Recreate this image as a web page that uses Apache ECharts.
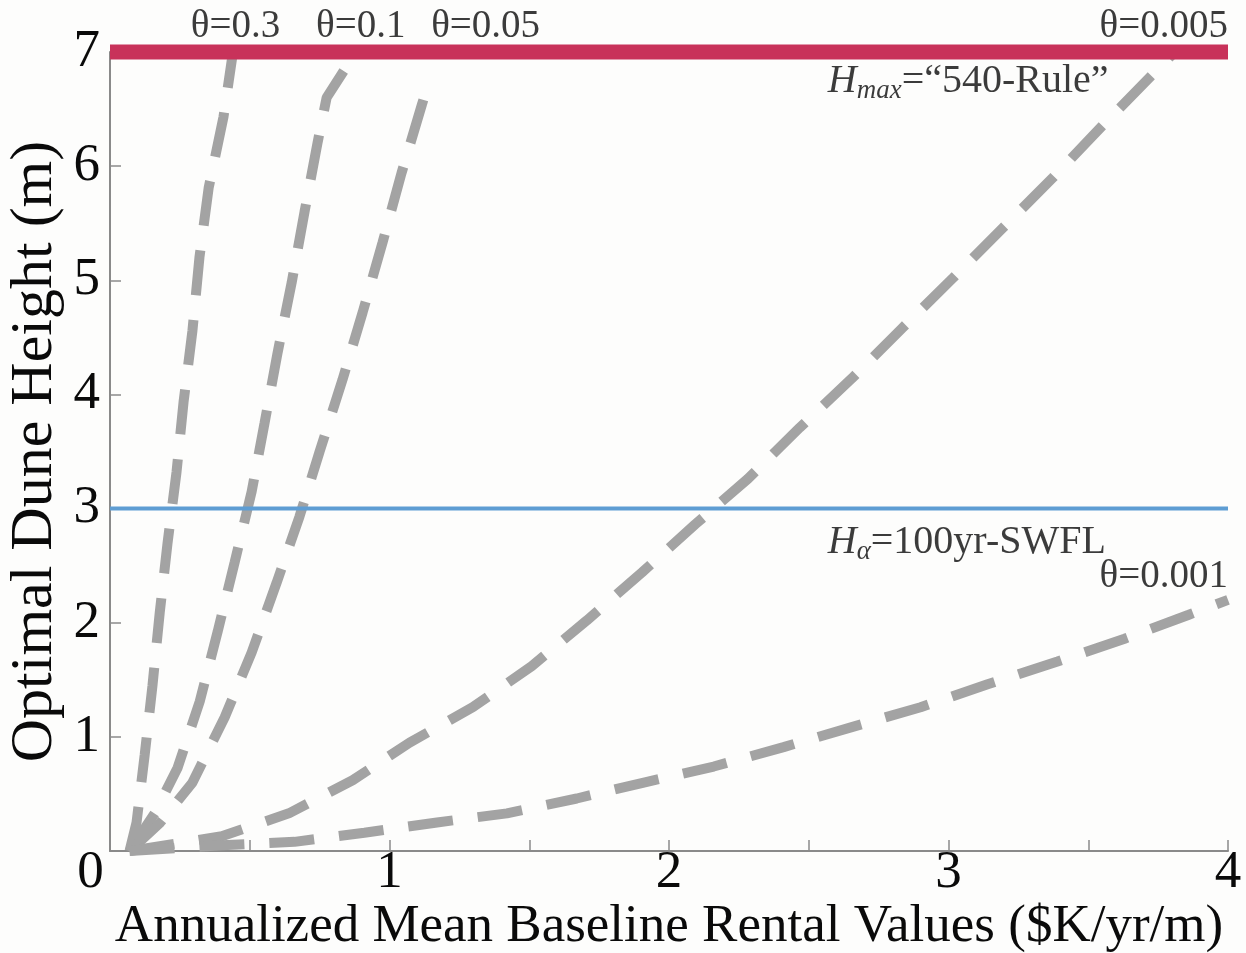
<!DOCTYPE html>
<html>
<head>
<meta charset="utf-8">
<title>Optimal Dune Height</title>
<script src="https://cdn.jsdelivr.net/npm/echarts@6/dist/echarts.min.js"></script>
<style>
  html, body { margin: 0; padding: 0; background: #fdfdfc; }
  #chart { width: 1246px; height: 953px; }
</style>
</head>
<body>
<div id="chart"></div>
<script>
// Optimal dune height against annualized mean baseline rental value,
// one dashed curve per discount parameter θ.
const theta03 = [[0.07, 0], [0.095, 0.25], [0.124, 0.84], [0.152, 1.45], [0.178, 2.09], [0.206, 2.70],
  [0.238, 3.32], [0.263, 3.93], [0.295, 4.56], [0.320, 5.20], [0.353, 5.81], [0.406, 6.43], [0.44, 7.0]];
const theta01 = [[0.07, 0], [0.16, 0.33], [0.242, 0.73], [0.321, 1.31], [0.385, 1.92], [0.446, 2.53],
  [0.507, 3.15], [0.553, 3.75], [0.600, 4.37], [0.650, 4.98], [0.696, 5.60], [0.743, 6.21],
  [0.775, 6.6], [0.88, 7.0]];
const theta005 = [[0.07, 0], [0.18, 0.25], [0.295, 0.60], [0.41, 1.17], [0.507, 1.74], [0.596, 2.35],
  [0.678, 2.93], [0.75, 3.5], [0.832, 4.13], [0.904, 4.72], [0.975, 5.33], [1.043, 5.94],
  [1.116, 6.54], [1.14, 6.73]];
const theta0005 = [[0.07, 0], [0.40, 0.13], [0.64, 0.33], [0.868, 0.62], [1.072, 0.95], [1.298, 1.26],
  [1.509, 1.62], [1.706, 2.02], [1.903, 2.44], [2.093, 2.86], [2.282, 3.26], [2.468, 3.71],
  [2.654, 4.14], [2.834, 4.58], [3.016, 5.02], [3.195, 5.46], [3.374, 5.90], [3.553, 6.36],
  [3.729, 6.80], [3.81, 7.0]];
const theta0001 = [[0.07, 0], [0.40, 0.05], [0.66, 0.08], [0.91, 0.16], [1.17, 0.25], [1.42, 0.33],
  [1.67, 0.46], [1.91, 0.60], [2.16, 0.74], [2.41, 0.91], [2.66, 1.09], [2.90, 1.26],
  [3.14, 1.46], [3.39, 1.66], [3.63, 1.86], [3.86, 2.07], [4.0, 2.20]];

// Reference heights
const hMax = 7;        // "540-Rule"
const hAlpha = 3;      // 100yr-SWFL
const xRange = [0, 4];
const yRange = [0, 7];

// Text annotations, anchored in data units
const annotations = [
  { text: 'θ=0.3', at: [0.449, 7.22], align: 'center' },
  { text: 'θ=0.1', at: [0.897, 7.22], align: 'center' },
  { text: 'θ=0.05', at: [1.344, 7.22], align: 'center' },
  { text: 'θ=0.005', at: [4.0, 7.22], align: 'right' },
  { text: 'θ=0.001', at: [4.0, 2.40], align: 'right' },
  { text: '{i|H}{sub|max}{n|=“540-Rule”}', at: [2.568, 6.74], align: 'left' },
  { text: '{i|H}{sub|α}{n|=100yr-SWFL}', at: [2.568, 2.70], align: 'left' }
];

const FONT = 'Liberation Serif';
const INK = '#0a0a0a';
const AXIS_GREY = '#8a8a8a';
const DASH_GREY = '#a3a3a3';

const chart = echarts.init(document.getElementById('chart'), null, { renderer: 'canvas' });

function dashed(name, data) {
  return {
    name, type: 'line', data, showSymbol: false, symbol: 'none',
    lineStyle: { color: DASH_GREY, width: 10, type: [45, 25], cap: 'butt' },
    z: 2, silent: true, clip: false
  };
}

const richText = {
  i: { fontFamily: FONT, fontStyle: 'italic', fontSize: 40, color: INK, lineHeight: 46 },
  sub: { fontFamily: FONT, fontStyle: 'italic', fontSize: 27, color: INK, lineHeight: 20, verticalAlign: 'bottom' },
  n: { fontFamily: FONT, fontSize: 40, color: INK, lineHeight: 46 }
};

chart.setOption({
  animation: false,
  backgroundColor: '#fdfdfc',
  grid: { left: 110, right: 18, top: 52, bottom: 102, containLabel: false, outerBoundsMode: 'none' },
  xAxis: {
    type: 'value', min: xRange[0], max: xRange[1], interval: 0.5,
    name: 'Annualized Mean Baseline Rental Values ($K/yr/m)',
    nameLocation: 'middle', nameGap: 50, nameMoveOverlap: false,
    nameTextStyle: { fontFamily: FONT, fontSize: 53, color: INK },
    axisLine: { show: true, onZero: false, lineStyle: { color: AXIS_GREY, width: 2 } },
    axisTick: { show: true, inside: true, length: 11, lineStyle: { color: AXIS_GREY, width: 1.5 } },
    axisLabel: {
      fontFamily: FONT, fontSize: 53, color: INK, margin: -4,
      formatter: v => (Number.isInteger(v) ? (v === 0 ? '{z|0}' : String(v)) : ''),
      rich: { z: { fontFamily: FONT, fontSize: 53, color: INK, padding: [0, 39, 0, 0] } }
    },
    splitLine: { show: false }
  },
  yAxis: {
    type: 'value', min: yRange[0], max: yRange[1], interval: 1,
    name: 'Optimal Dune Height (m)',
    nameLocation: 'middle', nameGap: 45, nameMoveOverlap: false,
    nameTextStyle: { fontFamily: FONT, fontSize: 60, color: INK },
    axisLine: { show: true, onZero: false, lineStyle: { color: AXIS_GREY, width: 2 } },
    axisTick: { show: true, inside: true, length: 11, lineStyle: { color: AXIS_GREY, width: 1.5 } },
    axisLabel: {
      fontFamily: FONT, fontSize: 53, color: INK, margin: 10,
      formatter: v => (v === 0 ? '' : String(v))
    },
    splitLine: { show: false }
  },
  series: [
    dashed('θ=0.3', theta03),
    dashed('θ=0.1', theta01),
    dashed('θ=0.05', theta005),
    dashed('θ=0.005', theta0005),
    dashed('θ=0.001', theta0001),
    {
      name: 'H alpha', type: 'line', data: [[xRange[0], hAlpha], [xRange[1], hAlpha]],
      symbol: 'none', lineStyle: { color: '#5e9dd3', width: 4 }, z: 3, silent: true, clip: false
    },
    {
      name: 'H max', type: 'line', data: [[xRange[0], hMax], [xRange[1], hMax]],
      symbol: 'none', lineStyle: { color: '#c8325a', width: 15 }, z: 4, silent: true, clip: false
    },
    {
      name: 'annotations', type: 'scatter', symbolSize: 0, silent: true, clip: false, z: 5,
      data: annotations.map(a => ({
        value: a.at,
        label: {
          show: true, position: [0, 0], align: a.align, verticalAlign: 'middle',
          formatter: a.text, fontFamily: FONT, fontSize: 39, color: INK, rich: richText
        }
      }))
    }
  ]
});
</script>
</body>
</html>
